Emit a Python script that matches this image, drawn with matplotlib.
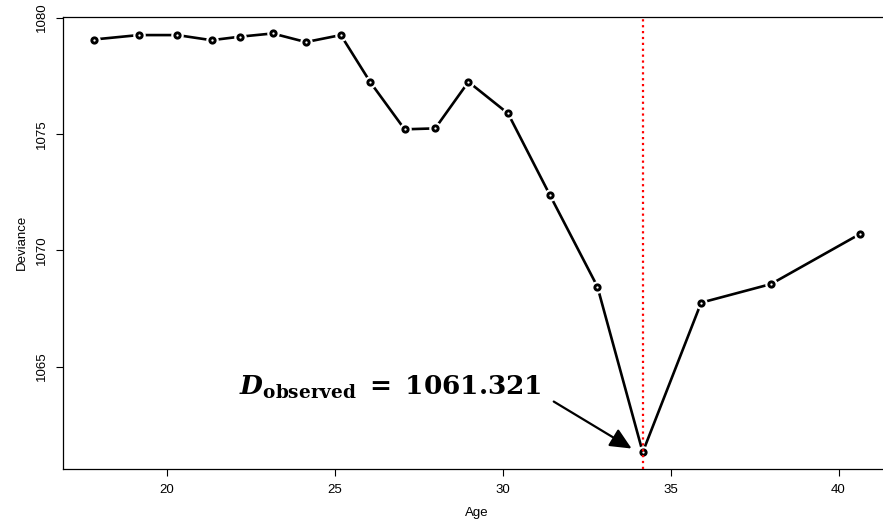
import numpy as np
import matplotlib
matplotlib.use('Agg')
import matplotlib.pyplot as plt

# Datos
edad = [17.82, 19.16, 20.31, 21.33, 22.17, 23.15, 24.14, 25.18, 26.06, 27.08,
        27.99, 28.98, 30.16, 31.40, 32.82, 34.17, 35.91, 37.99, 40.65]
devianza = [1079.06, 1079.25, 1079.25, 1079.03, 1079.18, 1079.32, 1078.95, 1079.25,
            1077.22, 1075.20, 1075.24, 1077.24, 1075.88, 1072.39, 1068.44, 1061.321,
            1067.75, 1068.55, 1070.71]
xticks = [20, 25, 30, 35, 40]
yticks = [1065, 1070, 1075, 1080]
edad_min = 34.17
d_obs = 1061.321

plt.rcParams['font.family'] = ['Liberation Sans', 'DejaVu Sans']
plt.rcParams['mathtext.fontset'] = 'dejavuserif'

fig = plt.figure(figsize=(8.83, 5.30), dpi=100)
# el recuadro derecho queda fuera de la imagen, como en el original
ax = fig.add_axes([63 / 883, 61 / 530, 828 / 883, 452.3 / 530])

# estilo tipo "b" de R: líneas con huecos alrededor de los puntos
ax.plot(edad, devianza, color='black', lw=1.9, zorder=2)
ax.plot(edad, devianza, 'o', ms=8, color='white', mec='white', zorder=3)
ax.plot(edad, devianza, 'o', ms=3.8, mfc='white', mec='black', mew=2.1, zorder=4)

ax.axvline(edad_min, color='red', ls=':', lw=1.6, zorder=5)

x0, x1 = min(edad), max(edad)
y0, y1 = min(devianza), max(devianza)
ax.set_xlim(x0 - 0.04 * (x1 - x0), x1 + 0.04 * (x1 - x0))
ax.set_ylim(y0 - 0.04 * (y1 - y0), y1 + 0.04 * (y1 - y0))

ax.annotate('', xy=(33.84, 1061.48), xytext=(31.52, 1063.50),
            arrowprops=dict(arrowstyle='-|>,head_length=1.3,head_width=0.6',
                            color='black', lw=1.6, shrinkA=0, shrinkB=0))
ax.text(22.14, 1063.78,
        r'$\mathbfit{D}_{\mathbf{observed}}\ \mathbf{=}\ \mathbf{%.3f}$' % d_obs,
        fontsize=19, ha='left', va='baseline')

ax.set_xticks(xticks)
ax.set_yticks(yticks)
ax.set_yticklabels([str(v) for v in yticks], rotation=90, va='center')
ax.tick_params(direction='out', length=5, width=0.8, labelsize=9.5, pad=6)
for s in ax.spines.values():
    s.set_linewidth(0.9)

ax.set_xlabel('Age', fontsize=9.5, labelpad=8)
ax.set_ylabel('Deviance', fontsize=9.5, labelpad=6)

fig.savefig('out.png', dpi=100)
